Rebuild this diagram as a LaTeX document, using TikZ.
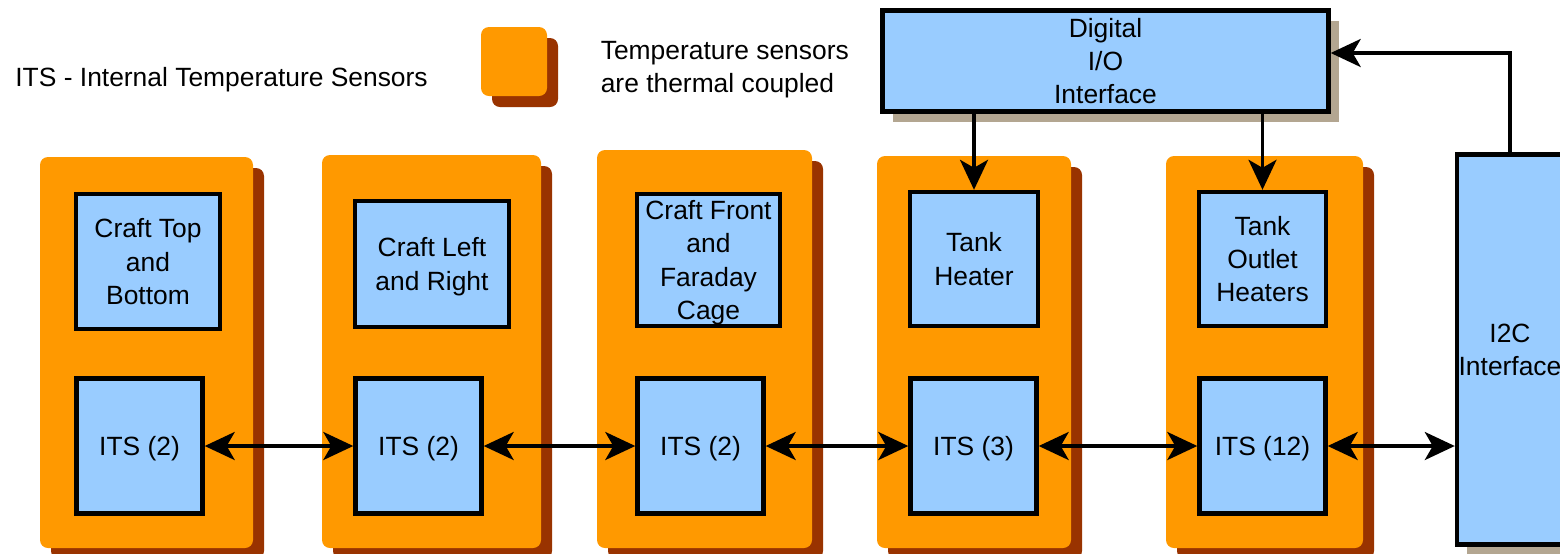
\documentclass[tikz,border=0pt]{standalone}
\usepackage{fontspec}
\setmainfont{Liberation Sans}
\usetikzlibrary{positioning,arrows.meta,shadows}
\definecolor{zoneOrange}{RGB}{255,153,0}
\definecolor{zoneShadow}{RGB}{153,51,0}
\definecolor{boxBlue}{RGB}{153,204,255}
\definecolor{boxShadow}{RGB}{179,166,145}

\begin{document}
\begin{tikzpicture}[
    x=0.5pt, y=-0.5pt,
    font=\fontsize{13.2}{16.7}\selectfont,
    zone/.style={rectangle,rounded corners=4pt,fill=zoneOrange,
        general shadow={fill=zoneShadow,shadow xshift=5.5pt,shadow yshift=-5.5pt}},
    box/.style={rectangle,draw,line width=2.2pt,fill=boxBlue,align=center,inner sep=0pt,text depth=0pt},
    iface/.style={box,general shadow={fill=boxShadow,shadow xshift=5pt,shadow yshift=-5pt}},
    arrow/.style={line width=1.8pt,->,>={Stealth[length=15pt,width=14pt,inset=4pt]}}
]
\path[use as bounding box] (0,0) rectangle (1560,553);

% legend
\node[anchor=west, inner sep=0pt, text depth=0pt] (itsnote) at (15,77) {ITS - Internal Temperature Sensors};
\node[zone, minimum width=33pt, minimum height=34.5pt] (key) at (514,61.5) {};
\node[right=26.5pt of key, yshift=-4pt, align=left, inner sep=0pt] (keytext) {Temperature sensors\\are thermal coupled};

% thermal zones
\node[zone, minimum width=106.5pt, minimum height=195.5pt] (zone1) at (146.5,352.5) {};
\node[zone, minimum width=109.5pt, minimum height=196.5pt] (zone2) at (431.5,351.5) {};
\node[zone, minimum width=107.5pt, minimum height=199pt] (zone3) at (704.5,349) {};
\node[zone, minimum width=97pt, minimum height=196pt] (zone4) at (974,352) {};
\node[zone, minimum width=98.5pt, minimum height=196pt] (zone5) at (1264.5,352) {};

\node[box, minimum width=72pt, minimum height=67.5pt] (topbot) at (148,261.5) {Craft Top\\and\\Bottom};
\node[box, minimum width=77pt, minimum height=63pt] (leftright) at (432,264) {Craft Left\\and Right};
\node[box, minimum width=71.5pt, minimum height=66pt] (front) at (708.5,260) {Craft Front\\and\\Faraday\\Cage};
\node[box, minimum width=64pt, minimum height=67pt] (heater) at (974,259) {Tank\\Heater};
\node[box, minimum width=63.5pt, minimum height=67pt] (outlet) at (1262.5,259) {Tank\\Outlet\\Heaters};

\node[box, minimum width=63pt, minimum height=67.5pt] (its1) at (139.5,446) {ITS (2)};
\node[box, minimum width=63pt, minimum height=67.5pt] (its2) at (418.5,446) {ITS (2)};
\node[box, minimum width=63pt, minimum height=67.5pt] (its3) at (700.5,446) {ITS (2)};
\node[box, minimum width=63pt, minimum height=67.5pt] (its4) at (973.5,446) {ITS (3)};
\node[box, minimum width=63pt, minimum height=67.5pt] (its5) at (1262.5,446) {ITS (12)};

% interfaces
\node[iface, minimum width=223pt, minimum height=50.5pt] (dio) at (1105.5,61) {Digital\\I/O\\Interface};
\node[iface, minimum width=53pt, minimum height=195pt] (i2c) at (1510,349.5) {I2C\\Interface};

\draw[arrow,<->] (its1) -- (its2);
\draw[arrow,<->] (its2) -- (its3);
\draw[arrow,<->] (its3) -- (its4);
\draw[arrow,<->] (its4) -- (its5);
\draw[arrow,<->] (its5.east) -- (its5.east -| i2c.west);

\draw[arrow] (dio.south -| heater.north) -- (heater.north);
\draw[arrow] (dio.south -| outlet.north) -- (outlet.north);
\draw[arrow] (i2c.north) |- ([yshift=4pt]dio.east);
\end{tikzpicture}
\end{document}
